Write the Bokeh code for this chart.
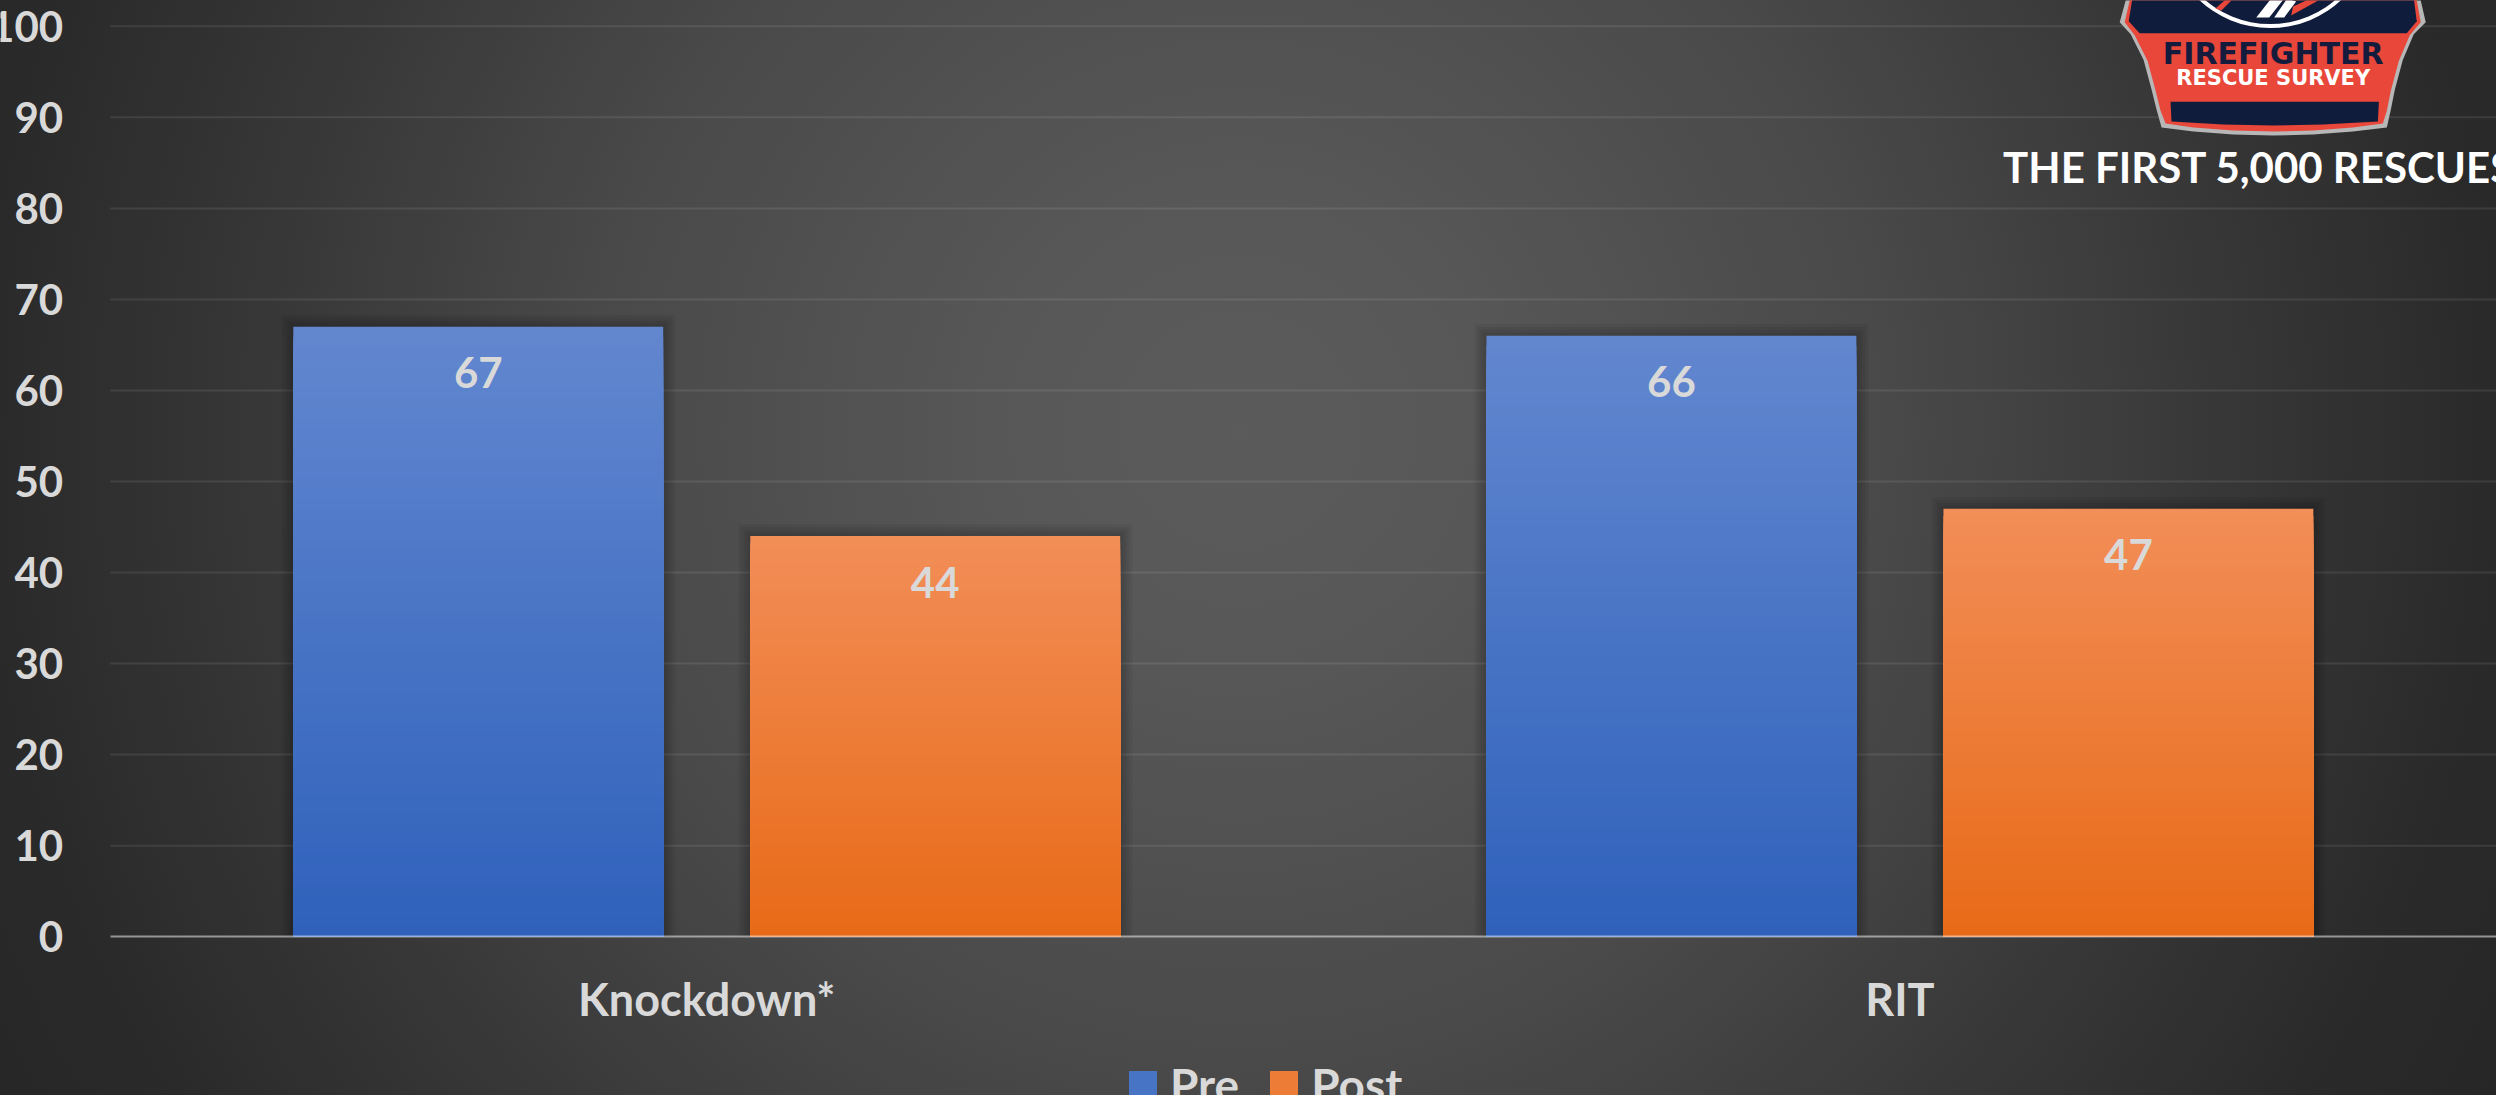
import numpy as np
from bokeh.plotting import figure
from bokeh.models import (Range1d, LinearAxis, FixedTicker, Legend, LegendItem,
                          ColumnDataSource)
from bokeh.core.properties import value
from bokeh.embed import file_html
from bokeh.resources import INLINE

# ---------------- data ----------------
CATEGORIES = ["Knockdown*", "RIT"]
SERIES = ["Pre", "Post"]
PRE = [67, 66]
POST = [44, 47]
Y_TICKS = [0, 10, 20, 30, 40, 50, 60, 70, 80, 90, 100]
TITLE_TEXT = "THE FIRST 5,000 RESCUES"
LOGO_LINE1 = "FIREFIGHTER"
LOGO_LINE2 = "RESCUE SURVEY"

# ---------------- layout constants (reference pixel frame 2504 x 1103) ----------------
W, H = 2496, 1095
REF_W, REF_H = 2504, 1103
PX_X = 1197.0      # reference pixels per category
PX_Y = 9.17        # reference pixels per y unit
X0_PX = 110        # reference pixel of x = 0
Y0_PX = 943        # reference pixel of y = 0

x_range = Range1d(-X0_PX / PX_X, (REF_W - X0_PX) / PX_X)
y_range = Range1d(-(REF_H - Y0_PX) / PX_Y, Y0_PX / PX_Y)

def dxp(px):
    return px / PX_X

def dyp(px):
    return px / PX_Y

def rx(ref_px):  # reference-image pixel -> data x
    return (ref_px - X0_PX) / PX_X

def ry(ref_py):  # reference-image pixel -> data y
    return (Y0_PX - ref_py) / PX_Y

FONT = value("Lato")
LABEL_COLOR = "#d9d9d9"

p = figure(width=W, height=H, x_range=x_range, y_range=y_range,
           output_backend="svg", toolbar_location=None,
           x_axis_type=None, y_axis_type=None,
           min_border=0, min_border_left=0, min_border_right=0,
           min_border_top=0, min_border_bottom=0)
p.background_fill_alpha = 0
p.border_fill_alpha = 0
p.outline_line_color = None
p.styles = {"background": "radial-gradient(circle at 1240px 430px, #5b5b5b 0px, "
                          "#575757 250px, #494949 650px, #363636 1000px, "
                          "#2a2a2a 1250px, #232323 1550px)"}

n_cat = len(CATEGORIES)

# ---------------- grid lines ----------------
grid_y = [t for t in Y_TICKS if t != 0]
p.segment(x0=[0] * len(grid_y), x1=[n_cat] * len(grid_y), y0=grid_y, y1=grid_y,
          line_color="#ffffff", line_alpha=0.09, line_width=2)

# ---------------- bars ----------------
BAR_W = 0.31
OFFSETS = [-0.1915, 0.1915]
COLORS = [((0x62, 0x87, 0xcf), (0x2f, 0x61, 0xbb)),
          ((0xf2, 0x8e, 0x58), (0xe8, 0x6a, 0x17))]
N = 60

renderers = []
for s, (vals, off, (ctop, cbot)) in enumerate(zip([PRE, POST], OFFSETS, COLORS)):
    xs = [i + 0.5 + off for i in range(n_cat)]
    # soft shadow
    for k in range(1, 5):
        p.vbar(x=xs, top=[v + dyp(3 * k) for v in vals], bottom=0,
               width=BAR_W + dxp(6 * k), fill_color="black", fill_alpha=0.055,
               line_color=None)
    gx, gt, gc = [], [], []
    for k in range(N):
        frac = (N - k - 0.5) / N
        col = tuple(int(round(cb + (ct - cb) * frac)) for ct, cb in zip(ctop, cbot))
        for x, v in zip(xs, vals):
            gx.append(x)
            gt.append(v * (N - k) / N)
            gc.append("#%02x%02x%02x" % col)
    src = ColumnDataSource(dict(x=gx, top=gt, color=gc))
    r = p.vbar(x="x", top="top", bottom=0, width=BAR_W, fill_color="color",
               line_color=None, source=src)
    renderers.append(r)
    # data labels
    p.text(x=xs, y=vals, text=[str(v) for v in vals], y_offset=46,
           text_align="center", text_baseline="alphabetic",
           text_font=FONT, text_font_style="bold", text_font_size="42px",
           text_color=LABEL_COLOR)

# ---------------- axes ----------------
yaxis = LinearAxis(fixed_location=0, ticker=FixedTicker(ticks=Y_TICKS),
                   bounds=(0, 100))
yaxis.axis_line_color = None
yaxis.major_tick_line_color = None
yaxis.minor_tick_line_color = None
yaxis.major_tick_in = 0
yaxis.major_tick_out = 0
yaxis.major_label_standoff = 47
yaxis.major_label_text_font = "Lato"
yaxis.major_label_text_font_style = "bold"
yaxis.major_label_text_font_size = "42px"
yaxis.major_label_text_color = LABEL_COLOR
p.add_layout(yaxis, "left")

cat_ticks = [i + 0.5 for i in range(n_cat)]
xaxis = LinearAxis(fixed_location=0, ticker=FixedTicker(ticks=cat_ticks),
                   bounds=(0, n_cat),
                   major_label_overrides={t: c for t, c in zip(cat_ticks, CATEGORIES)})
xaxis.axis_line_color = "#ffffff"
xaxis.axis_line_alpha = 0.5
xaxis.axis_line_width = 2
xaxis.major_tick_line_color = None
xaxis.minor_tick_line_color = None
xaxis.major_tick_in = 0
xaxis.major_tick_out = 0
xaxis.major_label_standoff = 35
xaxis.major_label_text_font = "Lato"
xaxis.major_label_text_font_style = "bold"
xaxis.major_label_text_font_size = "45px"
xaxis.major_label_text_color = LABEL_COLOR
p.add_layout(xaxis, "below")

# ---------------- legend ----------------
mid = (N // 2) * n_cat
legend = Legend(items=[LegendItem(label=SERIES[i], renderers=[renderers[i]], index=mid)
                       for i in range(len(SERIES))],
                orientation="horizontal", location=(1125, -17),
                glyph_width=35, glyph_height=35, label_standoff=10, spacing=27,
                padding=0, margin=0, border_line_color=None,
                background_fill_alpha=0,
                label_text_font="Lato", label_text_font_style="bold",
                label_text_font_size="46px", label_text_color=LABEL_COLOR)
p.add_layout(legend)

# ---------------- logo (decoration) ----------------
def poly(pts, color):
    p.patch(x=[rx(a) for a, b in pts], y=[ry(b) for a, b in pts],
            fill_color=color, line_color=None)

outline = [(2132, -10), (2132, 0), (2126, 22), (2137, 34), (2150, 60), (2158, 90),
           (2163, 110), (2168, 128), (2200, 132), (2240, 135), (2280, 136),
           (2320, 135), (2360, 132), (2394, 128), (2398, 110), (2402, 90),
           (2410, 60), (2421, 34), (2433, 22), (2428, 0), (2428, -10)]
red = [(2136, -10), (2136, 0), (2131, 22), (2141, 35), (2154, 61), (2162, 91),
       (2167, 111), (2172, 124), (2200, 128), (2240, 131), (2280, 132),
       (2320, 131), (2360, 128), (2390, 124), (2394, 111), (2398, 91),
       (2406, 61), (2417, 35), (2428, 22), (2424, 0), (2424, -10)]
navy_top = [(2140, -10), (2135, 21), (2146, 33), (2414, 33), (2424, 21), (2420, -10)]
navy_bot = [(2177, 102), (2386, 102), (2385, 122), (2330, 125), (2280, 126),
            (2230, 125), (2178, 122)]
poly(outline, "#b7b7b7")
poly(red, "#e8473a")
poly(navy_top, "#0f1c3b")
poly(navy_bot, "#0f1c3b")
p.annulus(x=[rx(2277)], y=[ry(-77)], inner_radius=100, outer_radius=104,
          inner_radius_units="screen", outer_radius_units="screen",
          fill_color="white", line_color=None)
poly([(2263, 17), (2276, 17), (2291, -2), (2278, -2)], "white")
poly([(2281, 17), (2291, 17), (2303, 1), (2294, -2)], "white")
poly([(2298, 15), (2336, -6), (2326, -6), (2300, 6)], "#e8473a")
poly([(2222, 8), (2238, -6), (2244, -6), (2228, 10)], "#e8473a")

p.text(x=[rx(2280)], y=[ry(53)], text=[LOGO_LINE1], text_align="center",
       text_baseline="alphabetic", text_font=value("DejaVu Sans"),
       text_font_style="bold", text_font_size="30px", text_color="#141b3d")
p.text(x=[rx(2280)], y=[ry(78)], text=[LOGO_LINE2], text_align="center",
       text_baseline="alphabetic", text_font=value("DejaVu Sans"),
       text_font_style="bold", text_font_size="21px", text_color="white")
p.text(x=[rx(2009)], y=[ry(168)], text=[TITLE_TEXT], text_align="left",
       text_baseline="alphabetic", text_font=FONT, text_font_style="bold",
       text_font_size="42px", text_color="white")

open("out.html", "w").write(file_html(p, INLINE))
